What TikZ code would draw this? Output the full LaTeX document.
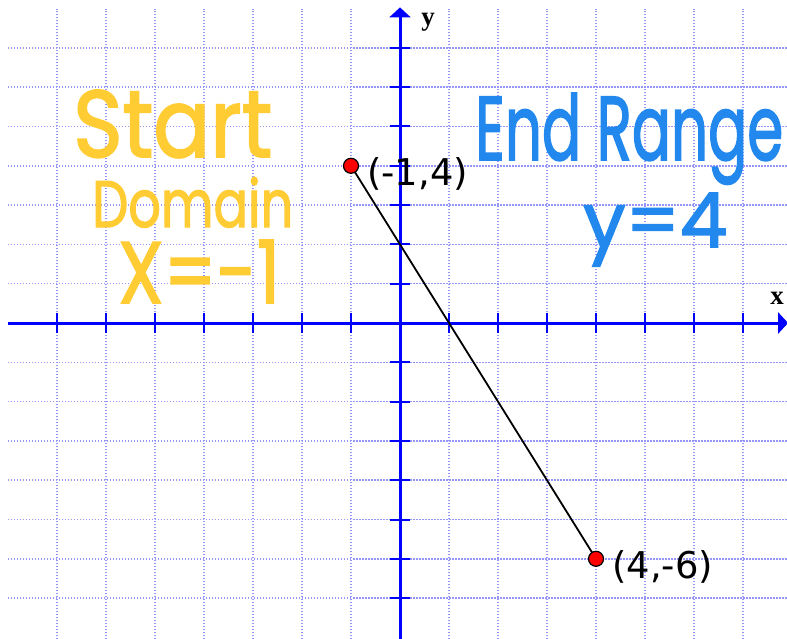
\documentclass[tikz,border=0pt]{standalone}
\usepackage{fontspec}
\usepackage{graphicx}
\usetikzlibrary{arrows.meta}
\newfontfamily\labfont{DejaVu Sans}
\newfontfamily\axfont{Liberation Serif}
\newfontfamily\handfont[FakeBold=2]{Poppins}
\definecolor{gridc}{RGB}{150,150,250}
\definecolor{axisblue}{RGB}{0,0,255}
\definecolor{handyellow}{RGB}{255,204,51}
\definecolor{handblue}{RGB}{34,136,238}
\definecolor{ptred}{RGB}{255,0,0}
\begin{document}
\begin{tikzpicture}[x=1bp,y=-1bp,
  gridline/.style={gridc, line width=1.5bp, dash pattern=on 1.5bp off 1.5bp},
  axisline/.style={axisblue, line width=3bp},
  tickline/.style={axisblue, line width=2bp},
  pt/.style={circle, fill=ptred, draw=black, line width=1.2bp, minimum size=15bp, inner sep=0pt},
  ptlabel/.style={font=\labfont\fontsize{37}{42}\selectfont, anchor=base west, inner sep=0pt},
  axlabel/.style={font=\axfont\bfseries\fontsize{27}{30}\selectfont, inner sep=0pt},
  hand/.style={inner sep=0pt, anchor=base west, font=\handfont}]
\useasboundingbox (0,0) rectangle (787,639);
\fill[white] (0,0) rectangle (787,639);
\begin{scope}[shift={(400,323)}, x=49bp, y=39.3bp]
  % grid
  \foreach \i in {-7,...,7} \draw[gridline] (\i,-8.05) -- (\i,8.0);
  \foreach \j in {-7,...,7} \draw[gridline] (-8,\j) -- (8,\j);
  % axes
  \coordinate (xl) at (-8,0);
  \coordinate (xr) at (7.92,0);
  \coordinate (yb) at (0,-8.05);
  \coordinate (yt) at (0,8.03);
  \draw[axisline, -{Triangle[length=10bp,width=21bp]}] (xl) -- (xr);
  \draw[axisline, -{Triangle[length=10bp,width=21bp]}] (yb) -- (yt);
  \foreach \i in {-7,...,-1,1,2,...,7}
    \draw[tickline] (\i,-0.254) -- (\i,0.254);
  \foreach \j in {-7,...,-1,1,2,...,7}
    \draw[tickline] (-0.214,\j) -- (0.214,\j);
  % segment and points
  \coordinate (a) at (-1,4);
  \coordinate (b) at (4,-6);
  \draw[black, line width=1.8bp] (a) -- (b);
  \node[pt] (p1) at (a) {};
  \node[pt] (p2) at (b) {};
  \node[ptlabel] (l1) at ([xshift=16bp,yshift=-20bp]p1.center) {(-1,4)};
  \node[ptlabel] (l2) at ([xshift=16bp,yshift=-20bp]p2.center) {(4,-6)};
\end{scope}
% axis labels
\node[axlabel] (ylab) at (428,22) {y};
\node[axlabel] (xlab) at (777,298) {x};
% handwritten notes
\node[hand, text=handyellow] (start) at (73,157) {\resizebox{199bp}{67bp}{Start}};
\node[hand, text=handyellow] (domain) at (92,227) {\resizebox{201bp}{50bp}{Domain}};
\node[hand, text=handyellow] (xeq) at (118,303) {\resizebox{162bp}{63bp}{X=-1}};
\node[hand, text=handblue] (endr) at (475,160) {\resizebox{308bp}{67bp}{End Range}};
\node[hand, text=handblue] (yeq) at (583,247) {\resizebox{144bp}{54bp}{y=4}};
\end{tikzpicture}
\end{document}
